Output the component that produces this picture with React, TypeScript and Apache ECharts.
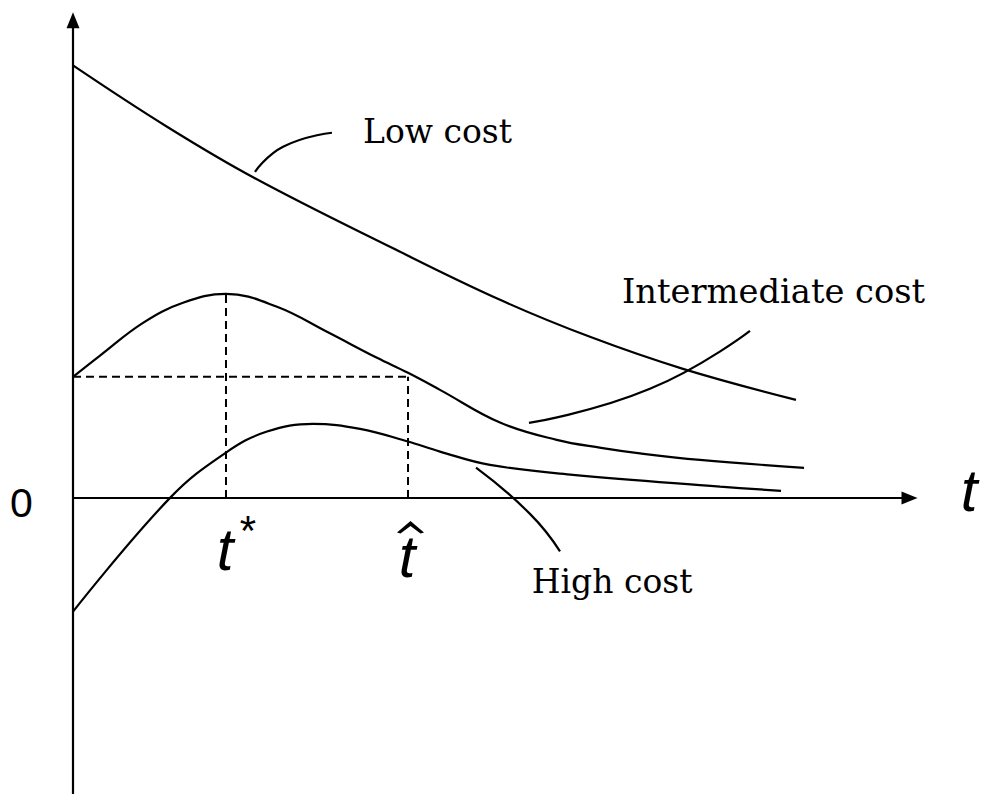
import React, { useEffect, useRef } from "react";
import * as echarts from "echarts";

// Data (t in model units along horizontal axis, value on vertical axis)
const lowT = [0, 1.124, 2.164, 3.814, 5.105, 6.18, 7.292, 8.643];
const lowV = [8.646, 7.42, 6.4, 5.0, 3.96, 3.22, 2.58, 1.96];

const midT = [0, 0.323, 0.837, 1.315, 1.829, 2.439, 3.036, 3.634, 4.005, 4.387, 5.105, 5.782, 6.312, 6.778, 7.495, 8.739];
const midV = [2.42, 2.846, 3.5, 3.9, 4.08, 3.82, 3.32, 2.8, 2.5, 2.16, 1.506, 1.16, 1.0, 0.89, 0.76, 0.6];

const highT = [0, 1.16, 1.829, 2.319, 2.869, 3.431, 4.005, 4.387, 4.985, 5.977, 7.735, 8.464];
const highV = [-2.274, 0, 0.906, 1.326, 1.48, 1.38, 1.126, 0.926, 0.66, 0.46, 0.226, 0.14];

// Leader curves for labels
const lowLeadT = [2.176, 2.511, 3.096];
const lowLeadV = [6.52, 7.02, 7.3];
const midLeadT = [5.451, 6.897, 8.093];
const midLeadV = [1.5, 2.18, 3.34];
const highLeadT = [4.818, 5.463, 5.822];
const highLeadV = [0.606, -0.32, -1.07];

// Reference marks
const tStar = 1.829;
const tHat = 4.005;
const uStart = 2.42;
const uPeak = 4.08;

const labels = ["Low cost", "Intermediate cost", "High cost"];

const zip = (a: number[], b: number[]) => a.map((x, i) => [x, b[i]]);

export default function App() {
  const ref = useRef<HTMLDivElement>(null);
  useEffect(() => {
    if (!ref.current) return;
    const chart = echarts.init(ref.current, undefined, { renderer: "svg" });
    const solid = { color: "#000", width: 2.2 };
    const dashed = { color: "#000", width: 2, type: [8, 5] as any };
    const curve = (name: string, t: number[], v: number[], smooth: number = 0.4) => ({
      type: "line",
      name,
      data: zip(t, v),
      smooth,
      showSymbol: false,
      symbol: "none",
      lineStyle: solid,
      silent: true,
    });
    const dash = (name: string, data: number[][]) => ({
      type: "line",
      name,
      data,
      showSymbol: false,
      symbol: "none",
      lineStyle: dashed,
      silent: true,
    });
    const serif = '"DejaVu Serif", serif';
    const sans = '"Liberation Sans", Arial, sans-serif';
    chart.setOption({
      animation: false,
      backgroundColor: "#fff",
      grid: { left: 73, right: 73.5, top: 20.2, bottom: 0, containLabel: false },
      xAxis: {
        type: "value",
        min: 0,
        max: 10,
        axisLine: {
          onZero: true,
          symbol: ["none", "triangle"],
          symbolSize: [13, 16],
          lineStyle: { color: "#000", width: 2.2 },
        },
        axisTick: { show: false },
        axisLabel: { show: false },
        splitLine: { show: false },
      },
      yAxis: {
        type: "value",
        min: -5.92,
        max: 9.55,
        axisLine: {
          show: true,
          onZero: false,
          symbol: ["none", "triangle"],
          symbolSize: [13, 16],
          lineStyle: { color: "#000", width: 2.2 },
        },
        axisTick: { show: false },
        axisLabel: { show: false },
        splitLine: { show: false },
      },
      series: [
        curve(labels[0], lowT, lowV),
        curve(labels[1], midT, midV),
        curve(labels[2], highT, highV),
        curve("lowLead", lowLeadT, lowLeadV, 0.5),
        curve("midLead", midLeadT, midLeadV, 0.5),
        curve("highLead", highLeadT, highLeadV, 0.5),
        dash("h", [[0, uStart], [tHat, uStart]]),
        dash("v1", [[tStar, 0], [tStar, uPeak]]),
        dash("v2", [[tHat, 0], [tHat, uStart]]),
      ],
      graphic: [
        { type: "text", x: 363, y: 131.6, style: { text: labels[0], fontFamily: serif, fontSize: 33, fill: "#000", align: "left", verticalAlign: "middle" } },
        { type: "text", x: 622, y: 291.6, style: { text: labels[1], fontFamily: serif, fontSize: 33.7, fill: "#000", align: "left", verticalAlign: "middle" } },
        { type: "text", x: 531.7, y: 581.3, style: { text: labels[2], fontFamily: serif, fontSize: 33, fill: "#000", align: "left", verticalAlign: "middle" } },
        { type: "text", x: 21.5, y: 503, style: { text: "0", fontFamily: sans, fontSize: 41, fill: "#000", align: "center", verticalAlign: "middle" } },
        { type: "text", x: 969, y: 490, style: { text: "t", fontFamily: sans, fontStyle: "italic", fontSize: 60, fill: "#000", align: "center", verticalAlign: "middle" } },
        { type: "text", x: 225, y: 549, style: { text: "t", fontFamily: sans, fontStyle: "italic", fontSize: 60, fill: "#000", align: "center", verticalAlign: "middle" } },
        { type: "text", x: 248, y: 530, style: { text: "*", fontFamily: sans, fontSize: 42, fill: "#000", align: "center", verticalAlign: "middle" } },
        { type: "text", x: 407, y: 556, style: { text: "t", fontFamily: sans, fontStyle: "italic", fontSize: 60, fill: "#000", align: "center", verticalAlign: "middle" } },
        {
          type: "polygon",
          shape: { points: [[397, 532.5], [410.5, 521], [424, 532.5], [420.5, 533.5], [410.5, 526], [400.5, 533.5]] },
          style: { fill: "#000" },
          silent: true,
        },
      ],
    });
    return () => chart.dispose();
  }, []);
  return (
    <div
      ref={ref}
      style={{ position: "fixed", left: 0, top: 0, width: 983, height: 794, background: "#fff" }}
    />
  );
}
